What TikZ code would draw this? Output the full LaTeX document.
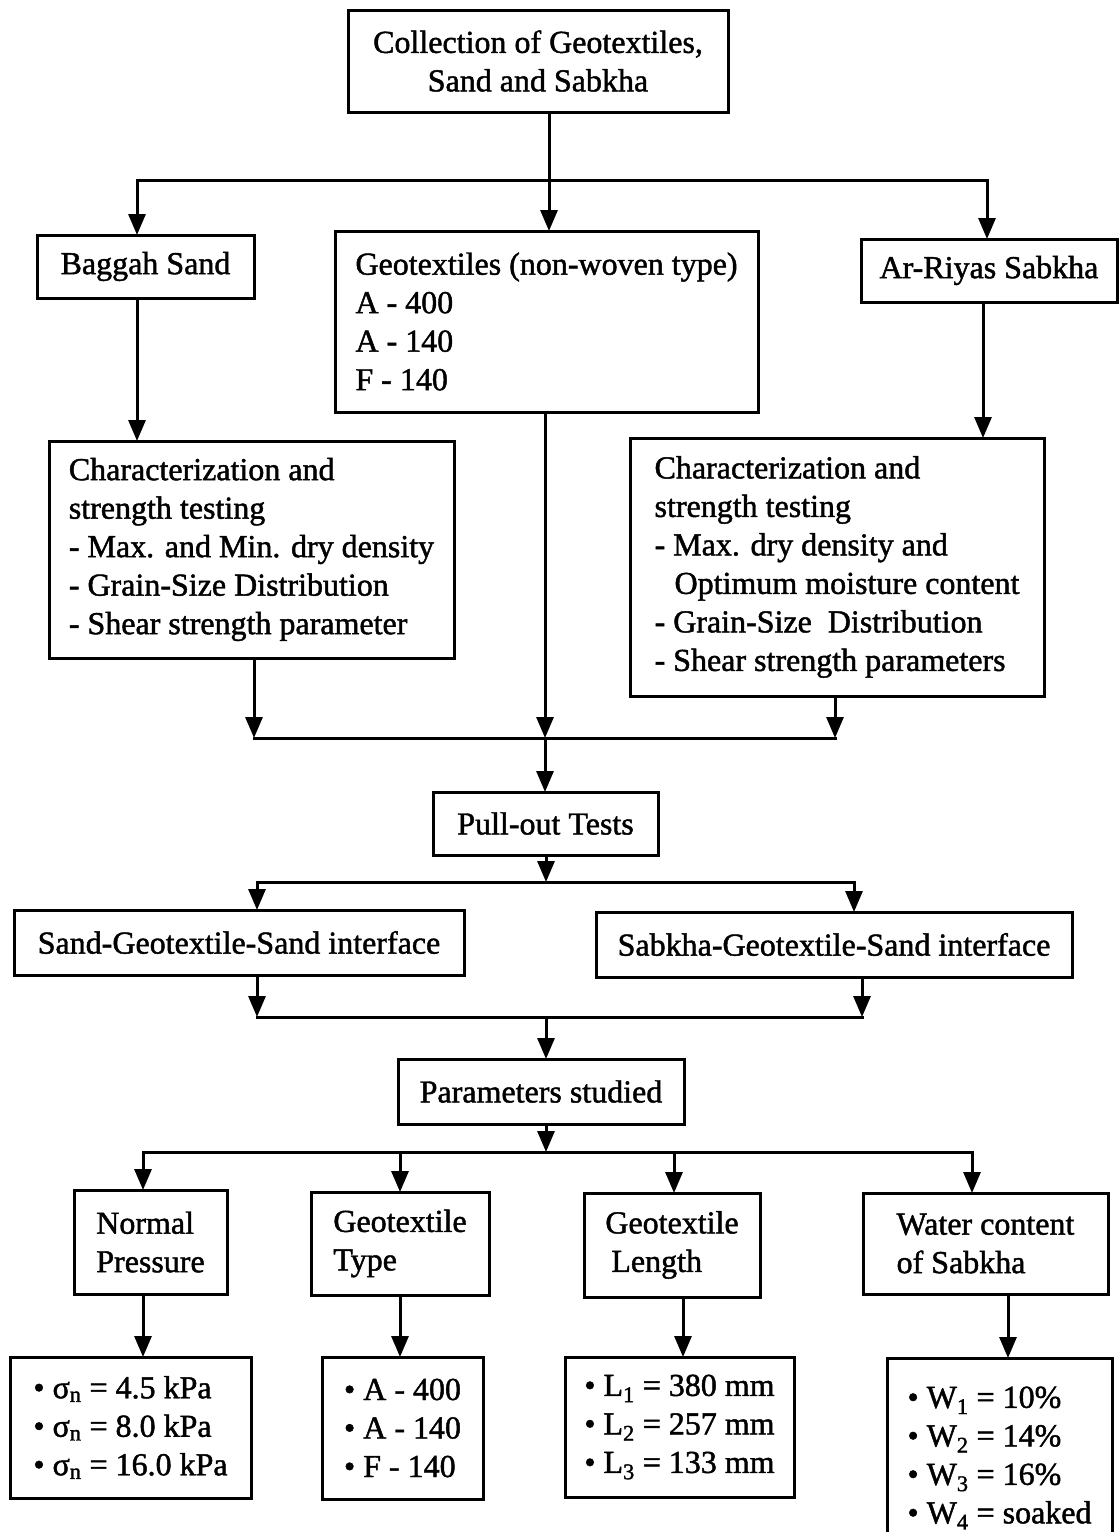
\documentclass[tikz,border=0pt]{standalone}
\usepackage{fontspec}
\newfontfamily\scanfont{Liberation Serif}[FakeBold=1.4]
\usetikzlibrary{arrows.meta}
\begin{document}
\begin{tikzpicture}[x=1pt,y=-1pt,
  box/.style={draw, line width=3pt, inner sep=0pt, outer sep=0pt,
    font=\scanfont\fontsize{32}{38.5}\selectfont, align=left},
  ln/.style={line width=3pt, line cap=rect},
  arr/.style={line width=3pt, -{Triangle[length=21pt,width=17pt]}},
]
\fill[white] (0,0) rectangle (1119,1532);
\useasboundingbox (0,0) rectangle (1119,1532);

% boxes
\node[box, align=center, minimum width=380pt, minimum height=102pt] (top) at (538,61)
  {Collection of Geotextiles,\\Sand and Sabkha};
\node[box, minimum width=217pt, minimum height=63pt] (baggah) at (145.5,266.5) {Baggah Sand};
\node[box, minimum width=423pt, minimum height=181pt] (geo) at (546.5,321.5)
  {Geotextiles (non-woven type)\\A - 400\\A - 140\\F - 140};
\node[box, minimum width=256pt, minimum height=63pt] (riyas) at (989,270.5) {Ar-Riyas Sabkha};
\node[box, minimum width=405pt, minimum height=217pt] (leftchar) at (251.5,549.5)
  {Characterization and\\strength testing\\- Max. and Min. dry density\\- Grain-Size Distribution\\- Shear strength parameter};
\node[box, minimum width=414pt, minimum height=258pt] (rightchar) at (837,567)
  {Characterization and\\strength testing\\- Max. dry density and\\\hspace*{20pt}Optimum moisture content\\- Grain-Size\ \ Distribution\\- Shear strength parameters};
\node[box, minimum width=225pt, minimum height=63pt] (pullout) at (545.5,823.5) {Pull-out Tests};
\node[box, minimum width=450pt, minimum height=65pt] (lint) at (239,942.5) {Sand-Geotextile-Sand interface};
\node[box, minimum width=476pt, minimum height=65pt] (rint) at (834,944.5) {Sabkha-Geotextile-Sand interface};
\node[box, minimum width=286pt, minimum height=65pt] (params) at (541,1091.5) {Parameters studied};
\node[box, minimum width=153pt, minimum height=104pt] (np) at (150.5,1242) {Normal\\Pressure};
\node[box, minimum width=178pt, minimum height=103pt] (gt) at (400,1243.5) {Geotextile\\Type};
\node[box, minimum width=176pt, minimum height=104pt] (gl) at (672,1245) {Geotextile\\\hspace*{6pt}Length};
\node[box, minimum width=245pt, minimum height=101pt] (wc) at (985.5,1243.5) {Water content\\of Sabkha};
\node[box, minimum width=241pt, minimum height=141pt] (npv) at (130.5,1427.5)
  {• σ\textsubscript{n} = 4.5 kPa\\• σ\textsubscript{n} = 8.0 kPa\\• σ\textsubscript{n} = 16.0 kPa};
\node[box, minimum width=161pt, minimum height=142pt] (gtv) at (402.5,1428)
  {• A - 400\\• A - 140\\• F - 140};
\node[box, minimum width=229pt, minimum height=140pt] (glv) at (679.5,1427)
  {• L\textsubscript{1} = 380 mm\\• L\textsubscript{2} = 257 mm\\• L\textsubscript{3} = 133 mm};
\node[box, minimum width=225pt, minimum height=200pt] (wv) at (999.5,1458)
  {• W\textsubscript{1} = 10\%\\• W\textsubscript{2} = 14\%\\• W\textsubscript{3} = 16\%\\• W\textsubscript{4} = soaked};

% junction coordinates
\coordinate (s1) at (549,180);
\coordinate (xa) at (137,0);
\coordinate (xr) at (987,0);
\coordinate (xb) at (137,0);
\coordinate (xrr) at (983,0);
\coordinate (m1) at (545,738);
\coordinate (xl) at (254,0);
\coordinate (xrc) at (835,0);
\coordinate (s2) at (546,882);
\coordinate (xli) at (257,0);
\coordinate (xri) at (854,0);
\coordinate (xri2) at (862,0);
\coordinate (m2) at (546,1017);
\coordinate (s3) at (546,1152);
\coordinate (p1) at (143,0);
\coordinate (p2) at (400,0);
\coordinate (p3) at (674,0);
\coordinate (p4) at (972,0);
\coordinate (q3) at (683,0);
\coordinate (q4) at (1008,0);

% level 1
\draw[ln] (top.south -| s1) -- (s1);
\draw[ln] (s1 -| xa) -- (s1 -| xr);
\draw[arr] (s1 -| xa) -- (baggah.north -| xa);
\draw[arr] (s1) -- (geo.north -| s1);
\draw[arr] (s1 -| xr) -- (riyas.north -| xr);

% level 2
\draw[arr] (baggah.south -| xb) -- (leftchar.north -| xb);
\draw[arr] (riyas.south -| xrr) -- (rightchar.north -| xrr);

% merge 1
\draw[ln] (m1 -| xl) -- (m1 -| xrc);
\draw[arr] (leftchar.south -| xl) -- (m1 -| xl);
\draw[arr] (geo.south -| m1) -- (m1);
\draw[arr] (rightchar.south -| xrc) -- (m1 -| xrc);
\draw[arr] (m1) -- (pullout.north -| m1);

% split 2
\draw[ln] (s2 -| xli) -- (s2 -| xri);
\draw[arr] (pullout.south -| s2) -- (s2);
\draw[arr] (s2 -| xli) -- (lint.north -| xli);
\draw[arr] (s2 -| xri) -- (rint.north -| xri);

% merge 2
\draw[ln] (m2 -| xli) -- (m2 -| xri2);
\draw[arr] (lint.south -| xli) -- (m2 -| xli);
\draw[arr] (rint.south -| xri2) -- (m2 -| xri2);
\draw[arr] (m2) -- (params.north -| m2);

% split 3
\draw[ln] (s3 -| p1) -- (s3 -| p4);
\draw[arr] (params.south -| s3) -- (s3);
\draw[arr] (s3 -| p1) -- (np.north -| p1);
\draw[arr] (s3 -| p2) -- (gt.north -| p2);
\draw[arr] (s3 -| p3) -- (gl.north -| p3);
\draw[arr] (s3 -| p4) -- (wc.north -| p4);

% values
\draw[arr] (np.south -| p1) -- (npv.north -| p1);
\draw[arr] (gt.south -| p2) -- (gtv.north -| p2);
\draw[arr] (gl.south -| q3) -- (glv.north -| q3);
\draw[arr] (wc.south -| q4) -- (wv.north -| q4);
\end{tikzpicture}
\end{document}
